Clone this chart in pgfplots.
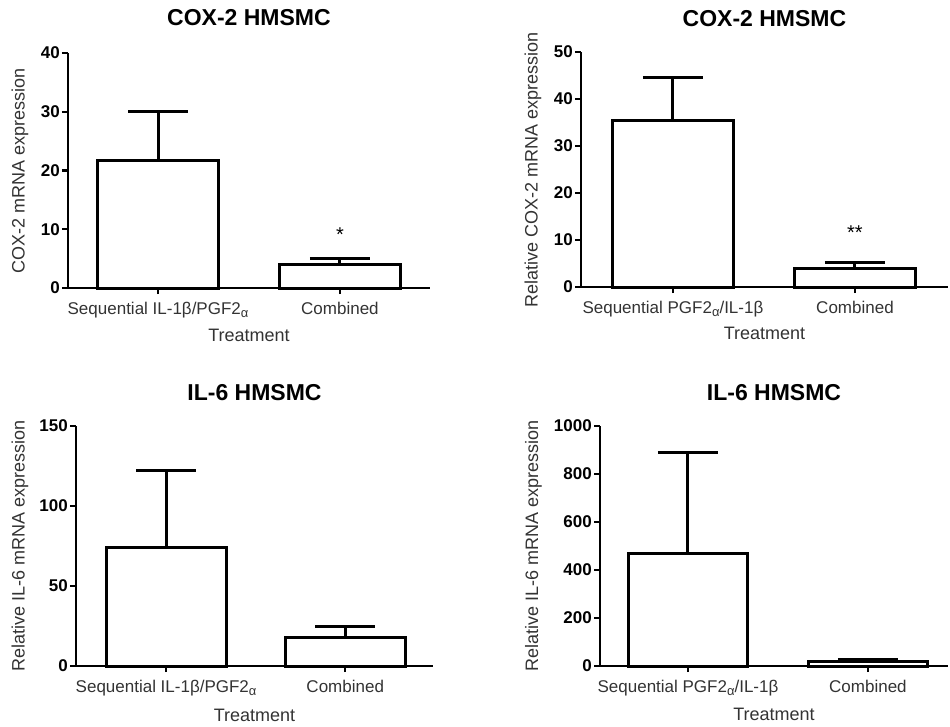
\documentclass[border=0pt]{standalone}
\usepackage{pgfplots}
\pgfplotsset{compat=1.18}
\usepackage{fontspec}
\setmainfont{Liberation Sans}
\newcommand\titfont{\fontsize{23}{26}\selectfont\bfseries}
\newcommand\labfont{\fontsize{18}{21}\selectfont}
\newcommand\xtfont{\fontsize{17}{20}\selectfont}
\newcommand\ytfont{\fontsize{17}{19}\selectfont\bfseries}
\newcommand\starfont{\fontsize{20}{22}\selectfont}
\newcommand\lowa{\raisebox{-2.5pt}{\fontsize{13}{13}\selectfont α}}
\pgfplotsset{
 panel/.style={
   scale only axis, anchor=south west,
   axis lines=left, axis line style={-, line width=2.4pt, black},
   ymin=0,
   xtick={0,1}, tick align=outside, major tick length=6pt,
   every tick/.style={black, line width=2.2pt},
   xticklabel style={font=\xtfont, text=black!80, yshift=-5pt},
   yticklabel style={font=\ytfont, inner sep=2pt},
   /pgf/number format/assume math mode=true,
   /pgf/number format/fixed, /pgf/number format/1000 sep={},
   label style={font=\labfont, text=black!80},
   title style={font=\titfont, anchor=center, yshift=-7pt},
   ylabel style={anchor=center},
   xlabel style={anchor=center},
   clip=false,
 },
 bars/.style={ybar, fill=white, draw=black, line width=3pt,
   error bars/.cd, y dir=plus, y explicit, error mark=|,
   error bar style={line width=3pt, black},
   error mark options={mark size=30pt, line width=3pt, black}}
}
\begin{document}
\begin{tikzpicture}
\useasboundingbox (0,0) rectangle (950pt,-726pt);
% Panel 1
\begin{axis}[panel, at={(68pt,-288pt)}, width=362pt, height=235pt,
  ymax=40, ytick={0,10,20,30,40}, xmin=-0.495, xmax=1.495,
  xticklabels={{Sequential IL-1β/PGF2\lowa}, Combined},
  title={COX-2 HMSMC}, title style={at={(axis description cs:0.5,1.153)}},
  xlabel={Treatment}, xlabel style={at={(axis description cs:0.5,-0.2)}},
  ylabel={COX-2 mRNA expression}, ylabel style={at={(axis description cs:-0.1326,0.5)}}]
\addplot[bar width=0.665, bars] coordinates {(0,21.7) +- (0,8.4) (1,4.0) +- (0,1.1)};
\node[font=\starfont, anchor=base] at (axis cs:1,7.9) {*};
\end{axis}
% Panel 2
\begin{axis}[panel, at={(581pt,-287pt)}, width=367pt, height=235pt,
  ymax=50, ytick={0,10,20,30,40,50}, xmin=-0.505, xmax=1.511,
  xticklabels={{Sequential PGF2\lowa/IL-1β}, Combined},
  title={COX-2 HMSMC}, title style={at={(axis description cs:0.5,1.147)}},
  xlabel={Treatment}, xlabel style={at={(axis description cs:0.5,-0.196)}},
  ylabel={Relative COX-2 mRNA expression}, ylabel style={at={(axis description cs:-0.131,0.5)}}]
\addplot[bar width=0.665, bars] coordinates {(0,35.5) +- (0,9.0) (1,4.0) +- (0,1.3)};
\node[font=\starfont, anchor=base] at (axis cs:1,10.1) {**};
\end{axis}
% Panel 3
\begin{axis}[panel, at={(76pt,-666pt)}, width=357pt, height=240pt,
  ymax=150, ytick={0,50,100,150}, xmin=-0.503, xmax=1.49,
  xticklabels={{Sequential IL-1β/PGF2\lowa}, Combined},
  title={IL-6 HMSMC}, title style={at={(axis description cs:0.5,1.142)}},
  xlabel={Treatment}, xlabel style={at={(axis description cs:0.5,-0.204)}},
  ylabel={Relative IL-6 mRNA expression}, ylabel style={at={(axis description cs:-0.157,0.5)}}]
\addplot[bar width=0.67, bars] coordinates {(0,74) +- (0,48.5) (1,18) +- (0,6.4)};
\end{axis}
% Panel 4
\begin{axis}[panel, at={(600pt,-666pt)}, width=348pt, height=240pt,
  ymax=1000, ytick={0,200,400,600,800,1000}, xmin=-0.489, xmax=1.445,
  xticklabels={{Sequential PGF2\lowa/IL-1β}, Combined},
  title={IL-6 HMSMC}, title style={at={(axis description cs:0.5,1.142)}},
  xlabel={Treatment}, xlabel style={at={(axis description cs:0.5,-0.2)}},
  ylabel={Relative IL-6 mRNA expression}, ylabel style={at={(axis description cs:-0.191,0.5)}}]
\addplot[bar width=0.66, bars] coordinates {(0,467) +- (0,421) (1,20) +- (0,6)};
\end{axis}
\end{tikzpicture}
\end{document}
